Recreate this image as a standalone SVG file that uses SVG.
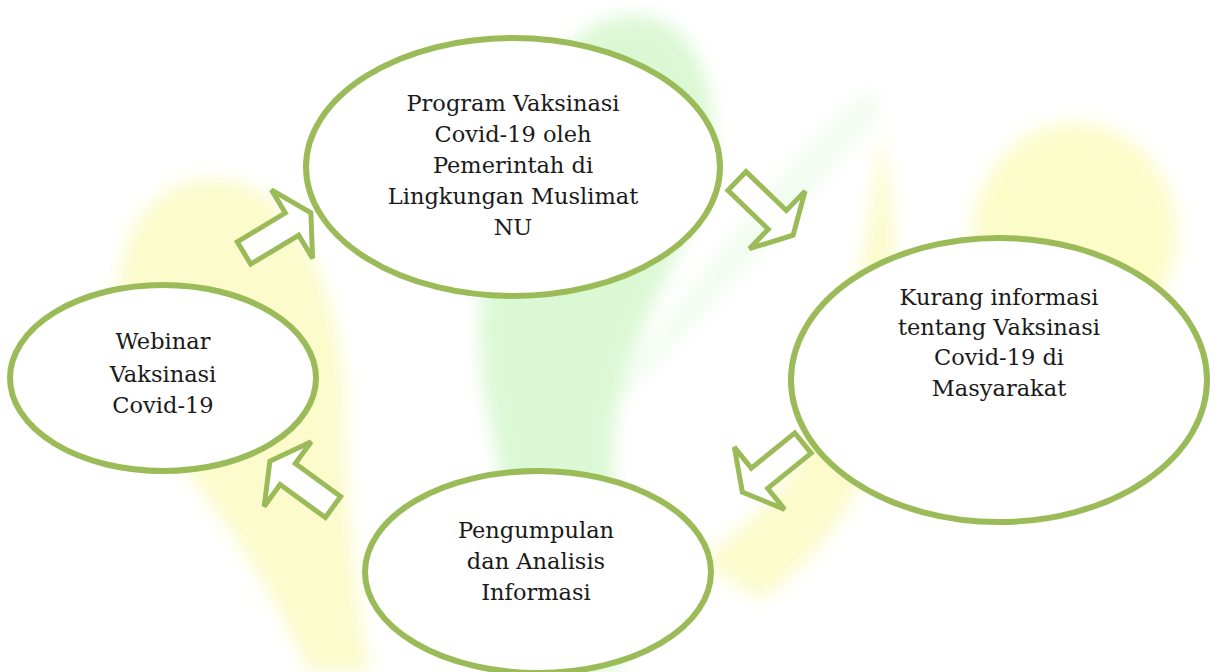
<svg xmlns="http://www.w3.org/2000/svg" width="1210" height="672" viewBox="0 0 1210 672">
  <defs>
    <style>
      .node { fill: #ffffff; stroke: #9BBB59; stroke-width: 6; }
      .arrow { fill: #ffffff; stroke: #9BBB59; stroke-width: 5; stroke-linejoin: miter; }
      .lbl { font-family: "DejaVu Serif", "Liberation Serif", serif; font-size: 22.5px; fill: #1a1a1a; text-anchor: middle; }
    </style>
    <filter id="blur" x="-50%" y="-50%" width="200%" height="200%">
      <feGaussianBlur stdDeviation="9"/>
    </filter>
    <polygon id="blk" points="0,-13 56,-13 56,-40 78,0 56,40 56,13 0,13"/>
  </defs>
  <rect width="1210" height="672" fill="#ffffff"/>
  <g id="background" filter="url(#blur)">
    <path d="M 200 180 C 140 190 110 250 120 330 C 135 420 200 480 250 560 C 280 610 300 650 310 672 L 370 672 C 355 600 345 500 345 420 C 345 330 320 260 290 220 C 265 190 235 175 200 180 Z" fill="#fbfbcb"/>
    <path d="M 880 130 C 870 240 850 330 820 420 C 800 470 760 520 700 560 L 760 600 C 820 560 880 480 890 380 C 900 280 895 190 880 130 Z" fill="#fbfbcb"/>
    <ellipse cx="1075" cy="235" rx="102" ry="112" fill="#fcfcc9"/>
    <path d="M 870 90 C 800 150 720 250 640 360 L 600 420 C 680 340 780 230 880 110 Z" fill="#f1fcee"/>
    <path d="M 640 15 C 590 15 545 50 520 140 C 480 240 470 330 490 420 C 510 520 520 600 515 672 L 620 672 C 615 580 610 500 615 420 C 630 330 680 260 705 190 C 725 120 710 25 640 15 Z" fill="#dbf8d4"/>
  </g>
  <g id="connectors">
    <use href="#blk" class="arrow" transform="translate(244,253) rotate(-31)"/>
    <use href="#blk" class="arrow" transform="translate(737,181) rotate(44)"/>
    <use href="#blk" class="arrow" transform="translate(803,443) rotate(141)"/>
    <use href="#blk" class="arrow" transform="translate(333,507) rotate(-144)"/>
  </g>
  <g id="node-program">
    <ellipse class="node" cx="513" cy="167" rx="207" ry="129"/>
    <text class="lbl" x="513" y="111">Program Vaksinasi</text>
    <text class="lbl" x="513" y="142">Covid-19 oleh</text>
    <text class="lbl" x="513" y="173">Pemerintah di</text>
    <text class="lbl" x="513" y="204">Lingkungan Muslimat</text>
    <text class="lbl" x="513" y="235">NU</text>
  </g>
  <g id="node-kurang">
    <ellipse class="node" cx="999" cy="380" rx="208" ry="142"/>
    <text class="lbl" x="999" y="305">Kurang informasi</text>
    <text class="lbl" x="999" y="335">tentang Vaksinasi</text>
    <text class="lbl" x="999" y="365">Covid-19 di</text>
    <text class="lbl" x="999" y="396">Masyarakat</text>
  </g>
  <g id="node-webinar">
    <ellipse class="node" cx="163" cy="378" rx="153" ry="93"/>
    <text class="lbl" x="163" y="349">Webinar</text>
    <text class="lbl" x="163" y="382">Vaksinasi</text>
    <text class="lbl" x="163" y="413">Covid-19</text>
  </g>
  <g id="node-pengumpulan">
    <ellipse class="node" cx="538" cy="572" rx="173" ry="101"/>
    <text class="lbl" x="536" y="538">Pengumpulan</text>
    <text class="lbl" x="536" y="569">dan Analisis</text>
    <text class="lbl" x="536" y="600">Informasi</text>
  </g>
</svg>
